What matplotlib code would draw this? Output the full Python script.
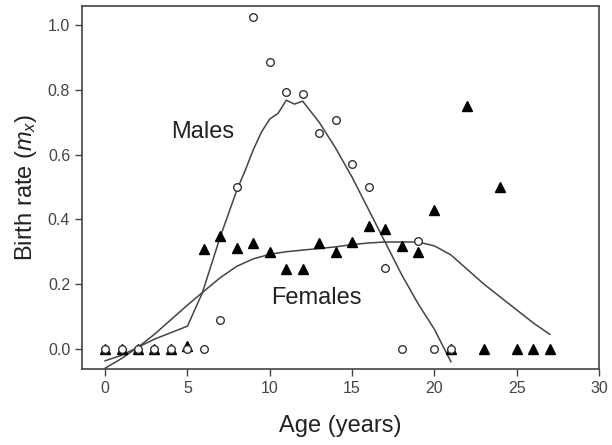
import matplotlib
matplotlib.use("Agg")
import matplotlib.pyplot as plt

plt.rcParams['font.family'] = ['Liberation Sans', 'DejaVu Sans']
plt.rcParams['mathtext.fontset'] = 'custom'
plt.rcParams['mathtext.rm'] = 'Liberation Sans'
plt.rcParams['mathtext.it'] = 'Liberation Sans:italic'

# observed birth rates by age
male_age = list(range(0, 22))
male_rate = [0, 0, 0, 0, 0, 0, 0, 0.09, 0.50, 1.025, 0.886, 0.793, 0.787,
             0.667, 0.707, 0.572, 0.50, 0.25, 0, 0.333, 0, 0]

female_age = list(range(0, 28))
female_rate = [0, 0, 0, 0, 0, 0.01, 0.308, 0.35, 0.31, 0.328, 0.298, 0.246,
               0.246, 0.328, 0.30, 0.331, 0.38, 0.37, 0.317, 0.30, 0.429, 0,
               0.75, 0, 0.50, 0, 0, 0]

# smoothed (loess) curves
male_fit_x = [0, 1, 2, 3, 4, 5, 5.9, 7, 8, 8.5, 9, 9.5, 10, 10.5, 11, 11.5,
              12, 13, 14, 15, 16, 17, 18, 19, 20, 21]
male_fit_y = [-0.037, -0.02, 0.005, 0.03, 0.05, 0.07, 0.172, 0.347, 0.49,
              0.55, 0.615, 0.67, 0.71, 0.727, 0.768, 0.756, 0.765, 0.70,
              0.62, 0.53, 0.43, 0.33, 0.23, 0.14, 0.06, -0.04]

female_fit_x = list(range(0, 28))
female_fit_y = [-0.06, -0.03, 0.005, 0.045, 0.09, 0.135, 0.178, 0.22, 0.255,
                0.278, 0.292, 0.30, 0.305, 0.31, 0.315, 0.322, 0.327, 0.33,
                0.33, 0.33, 0.318, 0.29, 0.245, 0.20, 0.16, 0.12, 0.08, 0.045]

fig = plt.figure(figsize=(6.12, 4.45), dpi=100)
ax = fig.add_axes([0.134, 0.171, 0.845, 0.8155])

ax.plot(male_fit_x, male_fit_y, color='#444444', lw=1.1)
ax.plot(female_fit_x, female_fit_y, color='#444444', lw=1.1)

ax.plot(female_age, female_rate, linestyle='none', marker='^', ms=7.5,
        color='black', mec='black')
ax.plot(male_age, male_rate, linestyle='none', marker='o', ms=5.5,
        mfc='white', mec='#333333', mew=1.0)

ax.text(5.9, 0.67, 'Males', fontsize=17, ha='center', va='center', color='#222222')
ax.text(12.85, 0.157, 'Females', fontsize=17, ha='center', va='center', color='#222222')

ax.set_xlim(-1.4, 30)
ax.set_ylim(-0.062, 1.059)
ax.set_xticks(range(0, 31, 5))
ax.set_yticks([0, 0.2, 0.4, 0.6, 0.8, 1.0])
ax.set_yticklabels(['0.0', '0.2', '0.4', '0.6', '0.8', '1.0'])
ax.tick_params(labelsize=11.5, colors='#444444', length=5, width=1)
for s in ax.spines.values():
    s.set_color('#444444')
    s.set_linewidth(1.2)

ax.set_xlabel('Age (years)', fontsize=17, color='#222222', labelpad=14)
ax.set_ylabel('Birth rate ($m_x$)', fontsize=17, color='#222222', labelpad=6)

fig.savefig('out.png', dpi=100)
